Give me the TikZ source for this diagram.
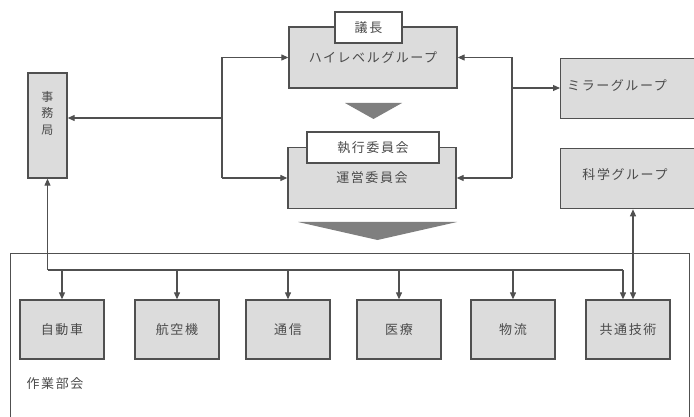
\documentclass[tikz,border=0pt]{standalone}
\usepackage{fontspec}
\newfontfamily\jp[LetterSpace=12]{Noto Sans CJK JP}
\usetikzlibrary{arrows.meta}
\definecolor{boxfill}{HTML}{DCDCDC}
\definecolor{boxline}{HTML}{505050}
\definecolor{txt}{HTML}{4A4A4A}
\definecolor{trig}{HTML}{7F7F7F}
\begin{document}
\begin{tikzpicture}[x=1pt,y=-1pt,
  jpfont/.style={font=\jp\fontsize{13}{16}\selectfont,text=txt},
  gbox/.style={draw=boxline,fill=boxfill,line width=1.3pt,inner sep=0pt,jpfont},
  wbox/.style={draw=boxline,fill=white,line width=1.3pt,inner sep=0pt,jpfont},
  wgbox/.style={gbox,minimum width=84pt,minimum height=59pt},
  conn/.style={draw=boxline,line width=1.1pt},
  tip/.style={-{Triangle[length=7pt,width=6pt]}},
  dtip/.style={{Triangle[length=7pt,width=6pt]}-{Triangle[length=7pt,width=6pt]}}]
\useasboundingbox (0,0) rectangle (694,417);
\clip (0,0) rectangle (694,417);

% top groups
\node[gbox,minimum width=168pt,minimum height=61pt] (hl) at (373,57.5) {ハイレベルグループ};
\node[wbox,minimum width=67pt,minimum height=31pt] (gicho) at (368.5,27.5) {議長};
\node[gbox,minimum width=168pt,minimum height=61pt] (unei) at (372,178) {運営委員会};
\node[wbox,minimum width=132pt,minimum height=31pt] (shikko) at (373,147.5) {執行委員会};

\fill[trig] (345,103) -- (402,103) -- (373.5,119) -- cycle;
\fill[trig] (298,222) -- (457,222) -- (377.5,240) -- cycle;

% secretariat
\node[gbox,minimum width=39pt,minimum height=105pt] (jimu) at (47.5,125.5) {};
\node[jpfont,font=\jp\fontsize{12}{16.5}\selectfont,align=center,inner sep=0pt] (jimutext) at (47.5,113) {事\\務\\局};

% right groups
\node[gbox,minimum width=150pt,minimum height=60pt,anchor=north west] (mirror) at (560,58) {};
\node[jpfont,inner sep=0pt] (mirrortext) at (617,85) {ミラーグループ};
\node[gbox,minimum width=150pt,minimum height=60pt,anchor=north west] (kagaku) at (560,148) {};
\node[jpfont,inner sep=0pt] (kagakutext) at (625,175) {科学グループ};

% working group frame
\node[draw=boxline,line width=1.3pt,minimum width=679pt,minimum height=190pt,anchor=north west,inner sep=0pt] (wg) at (10,253) {};
\node[jpfont,inner sep=0pt] (wglabel) at (55,384) {作業部会};

\node[wgbox] (b1) at (62,329.5) {自動車};
\node[wgbox] (b2) at (177,329.5) {航空機};
\node[wgbox] (b3) at (288,329.5) {通信};
\node[wgbox] (b4) at (399,329.5) {医療};
\node[wgbox] (b5) at (513,329.5) {物流};
\node[wgbox] (b6) at (628,329.5) {共通技術};

% connectors: left
\coordinate (L) at (222,0);
\coordinate (jmid) at (222,118);
\draw[conn] (L |- hl.west) -- (L |- unei.west);
\draw[conn,tip] (L |- hl.west) -- (hl.west);
\draw[conn,tip] (L |- unei.west) -- (unei.west);
\draw[conn,tip] (jmid) -- (jmid -| jimu.east);

% connectors: right
\coordinate (R) at (512,0);
\coordinate (rmid) at (512,88);
\draw[conn] (R |- hl.east) -- (R |- unei.east);
\draw[conn,tip] (R |- hl.east) -- (hl.east);
\draw[conn,tip] (R |- unei.east) -- (unei.east);
\draw[conn,tip] (rmid) -- (rmid -| mirror.west);

% bus
\coordinate (bus) at (0,270);
\coordinate (busend) at (623,270);
\draw[conn,tip] (jimu.south |- bus) -- (jimu.south);
\draw[conn] (jimu.south |- bus) -- (busend);
\foreach \b in {b1,b2,b3,b4,b5}{
  \draw[conn,tip] (\b.north |- bus) -- (\b.north);
}
\draw[conn,tip] (busend) -- (busend |- b6.north);

% science group link
\coordinate (kx) at (633,0);
\draw[conn,dtip] (kx |- kagaku.south) -- (kx |- b6.north);
\end{tikzpicture}
\end{document}
